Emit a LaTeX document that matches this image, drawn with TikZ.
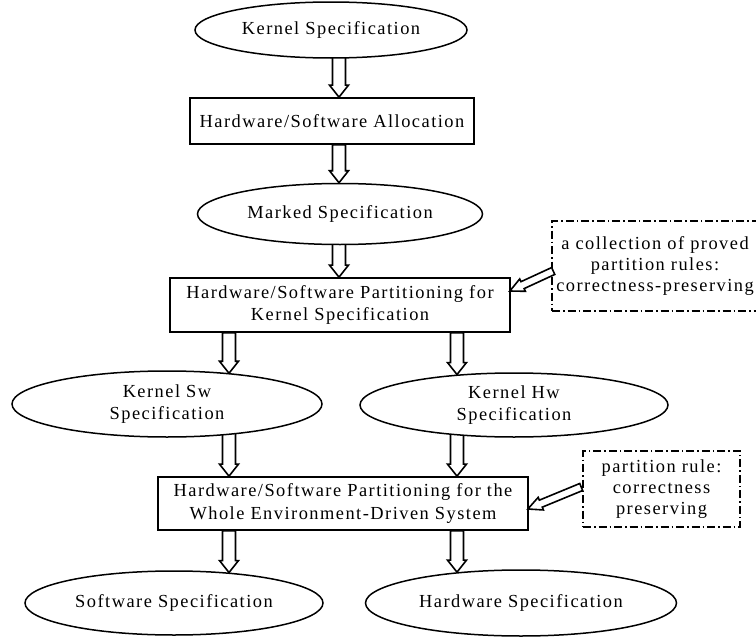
\documentclass[tikz,border=0pt]{standalone}
\usepackage{fontspec}
\setmainfont{Liberation Serif}[LetterSpace=8]
\usetikzlibrary{shapes.geometric,calc}
\pgfdeclarelayer{bg}
\pgfsetlayers{bg,main}
\begin{document}
\begin{tikzpicture}[x=1pt,y=-1pt,
  base/.style={line width=1.7pt, font=\fontsize{18.4}{22.3}\selectfont, inner sep=0pt, align=center, fill=white},
  oval/.style={base, draw, ellipse, line width=1.5pt},
  rectbox/.style={base, draw, rectangle},
  notebox/.style={base, draw, rectangle, line width=1.6pt, dash pattern=on 8pt off 3pt on 1.5pt off 3pt, font=\fontsize{18.4}{21}\selectfont},
  arrowline/.style={line width=1.6pt, line join=miter},
  blockarrow/.style n args={3}{to path={
    ($(\tikztotarget)!#3!(\tikztostart)$) coordinate (hb)
    ($(\tikztostart)!#1!90:(\tikztotarget)$) -- ($(hb)!#1!-90:(\tikztostart)$) -- ($(hb)!#2!-90:(\tikztostart)$) -- (\tikztotarget) -- ($(hb)!#2!90:(\tikztostart)$) -- ($(hb)!#1!90:(\tikztostart)$) -- ($(\tikztostart)!#1!-90:(\tikztotarget)$) -- cycle}},
  downarrow/.style={blockarrow={6.5pt}{9.5pt}{12pt}},
  sidearrow/.style={blockarrow={3.8pt}{6.8pt}{14pt}}
]
\useasboundingbox (0,0) rectangle (756,637);

\node[oval, minimum width=272, minimum height=56] (ks) at (331,30) {Kernel Specification};
\node[rectbox, minimum width=284, minimum height=46] (alloc) at (332,121) {Hardware/Software Allocation};
\node[oval, minimum width=285, minimum height=61] (marked) at (340,214) {Marked Specification};
\node[rectbox, minimum width=340, minimum height=54] (part1) at (340,305) {Hardware/Software Partitioning for\\Kernel Specification};
\node[oval, minimum width=310, minimum height=66] (ksw) at (167,404) {Kernel Sw\\Specification};
\node[oval, minimum width=308, minimum height=64] (khw) at (514,405) {Kernel Hw\\Specification};
\node[rectbox, minimum width=370, minimum height=53] (part2) at (343,503.5) {Hardware/Software Partitioning for the\\Whole Environment-Driven System};
\node[oval, minimum width=298, minimum height=64] (sw) at (174,603) {Software Specification};
\node[oval, minimum width=311, minimum height=66] (hw) at (521,603) {Hardware Specification};
\node[notebox, minimum width=206, minimum height=90] (note1) at (655,266) {a collection of proved\\partition rules:\\correctness-preserving};
\node[notebox, minimum width=157, minimum height=76] (note2) at (661.5,489) {partition rule:\\correctness\\preserving};

\coordinate (cx) at (339,0);
\coordinate (lx) at (229,0);
\coordinate (rx) at (457,0);

\coordinate (a1s) at (cx |- ks.center);
\coordinate (a1t) at (cx |- alloc.north);
\coordinate (a2s) at (cx |- alloc.south);
\coordinate (a2t) at (cx |- marked.north);
\coordinate (a3s) at (cx |- marked.center);
\coordinate (a3t) at (cx |- part1.north);
\coordinate (a4s) at (lx |- part1.south);
\coordinate (a4t) at ($(lx |- ksw.north)+(0,3)$);
\coordinate (a5s) at (rx |- part1.south);
\coordinate (a5t) at ($(rx |- khw.north)+(0,2.3)$);
\coordinate (a6s) at (lx |- ksw.center);
\coordinate (a6t) at (lx |- part2.north);
\coordinate (a7s) at (rx |- khw.center);
\coordinate (a7t) at (rx |- part2.north);
\coordinate (a8s) at (lx |- part2.south);
\coordinate (a8t) at ($(lx |- sw.north)+(0,2.3)$);
\coordinate (a9s) at (rx |- part2.south);
\coordinate (a9t) at ($(rx |- hw.north)+(0,2.9)$);
\coordinate (n1s) at ($(note1.west)+(2,5)$);
\coordinate (n1t) at ($(part1.east)+(-1,-14)$);
\coordinate (n2s) at ($(note2.west)+(-1,-2)$);
\coordinate (n2t) at ($(part2.east)+(-1,5.5)$);

\begin{pgfonlayer}{bg}
\draw[arrowline] (a1s) to[downarrow] (a1t);
\draw[arrowline] (a2s) to[downarrow] (a2t);
\draw[arrowline] (a3s) to[downarrow] (a3t);
\draw[arrowline] (a4s) to[downarrow] (a4t);
\draw[arrowline] (a5s) to[downarrow] (a5t);
\draw[arrowline] (a6s) to[downarrow] (a6t);
\draw[arrowline] (a7s) to[downarrow] (a7t);
\draw[arrowline] (a8s) to[downarrow] (a8t);
\draw[arrowline] (a9s) to[downarrow] (a9t);
\end{pgfonlayer}
\draw[arrowline, fill=white] (n1s) to[sidearrow] (n1t);
\draw[arrowline, fill=white] (n2s) to[sidearrow] (n2t);
\end{tikzpicture}
\end{document}
